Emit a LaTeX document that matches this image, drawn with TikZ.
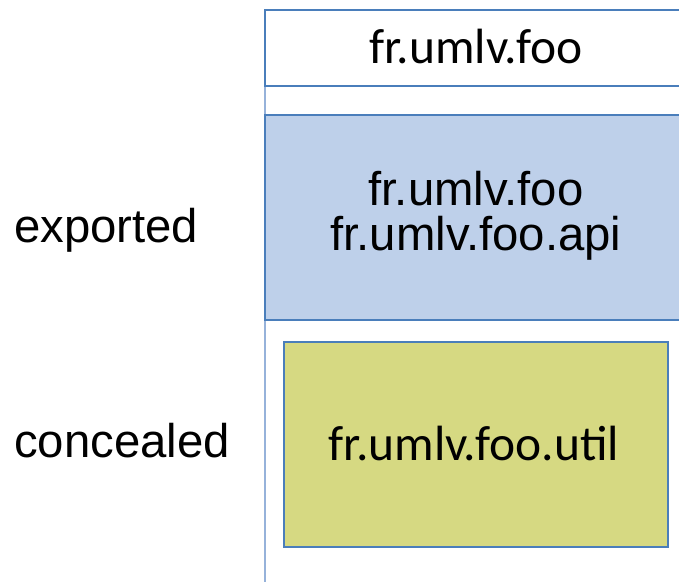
\documentclass[tikz,border=0pt]{standalone}
\usepackage{fontspec}
\setmainfont{Liberation Sans}
\newfontfamily\calibrifont{Carlito}
\definecolor{modline}{RGB}{74,126,187}
\definecolor{paleline}{RGB}{150,178,218}
\definecolor{exportfill}{RGB}{190,208,234}
\definecolor{concealfill}{RGB}{214,217,130}

\begin{document}
\begin{tikzpicture}[x=1pt,y=-1pt,
	side/.style={inner sep=0pt,font=\fontsize{47.3}{45}\selectfont},
	pkg/.style={inner sep=0pt,font=\calibrifont\fontsize{49.5}{50}\selectfont}]

	    \useasboundingbox (0,0) rectangle (679,582);

	    % module frame
	    \draw[paleline,line width=1.3pt] (265,86) -- (265,582);
	    \draw[modline,line width=1.1pt] (679,10) -- (265,10) -- (265,86) -- (679,86);
	    \node[pkg,anchor=base] (modname) at (476,63) {fr.umlv.foo};

	    % exported packages
	    \fill[exportfill] (265,115) rectangle (679,320);
	    \draw[modline,line width=1.2pt] (679,115) -- (265,115) -- (265,320) -- (679,320);
	    \node[side,anchor=base] (api1) at (476,205) {fr.umlv.foo};
	    \node[side,anchor=base] (api2) at (476,250) {fr.umlv.foo.api};
	    \node[side,anchor=base west] (exported) at (14,242) {exported};

	    % concealed packages
	    \node[pkg,draw=modline,line width=1.2pt,fill=concealfill,
	          minimum width=384pt,minimum height=205pt] (util) at (476,444.5) {};
	    \node[pkg,anchor=base] (utilname) at (474,460) {fr.umlv.foo.util};
	    \node[side,anchor=base west] (concealed) at (14,457) {concealed};

	\end{tikzpicture}
\end{document}
